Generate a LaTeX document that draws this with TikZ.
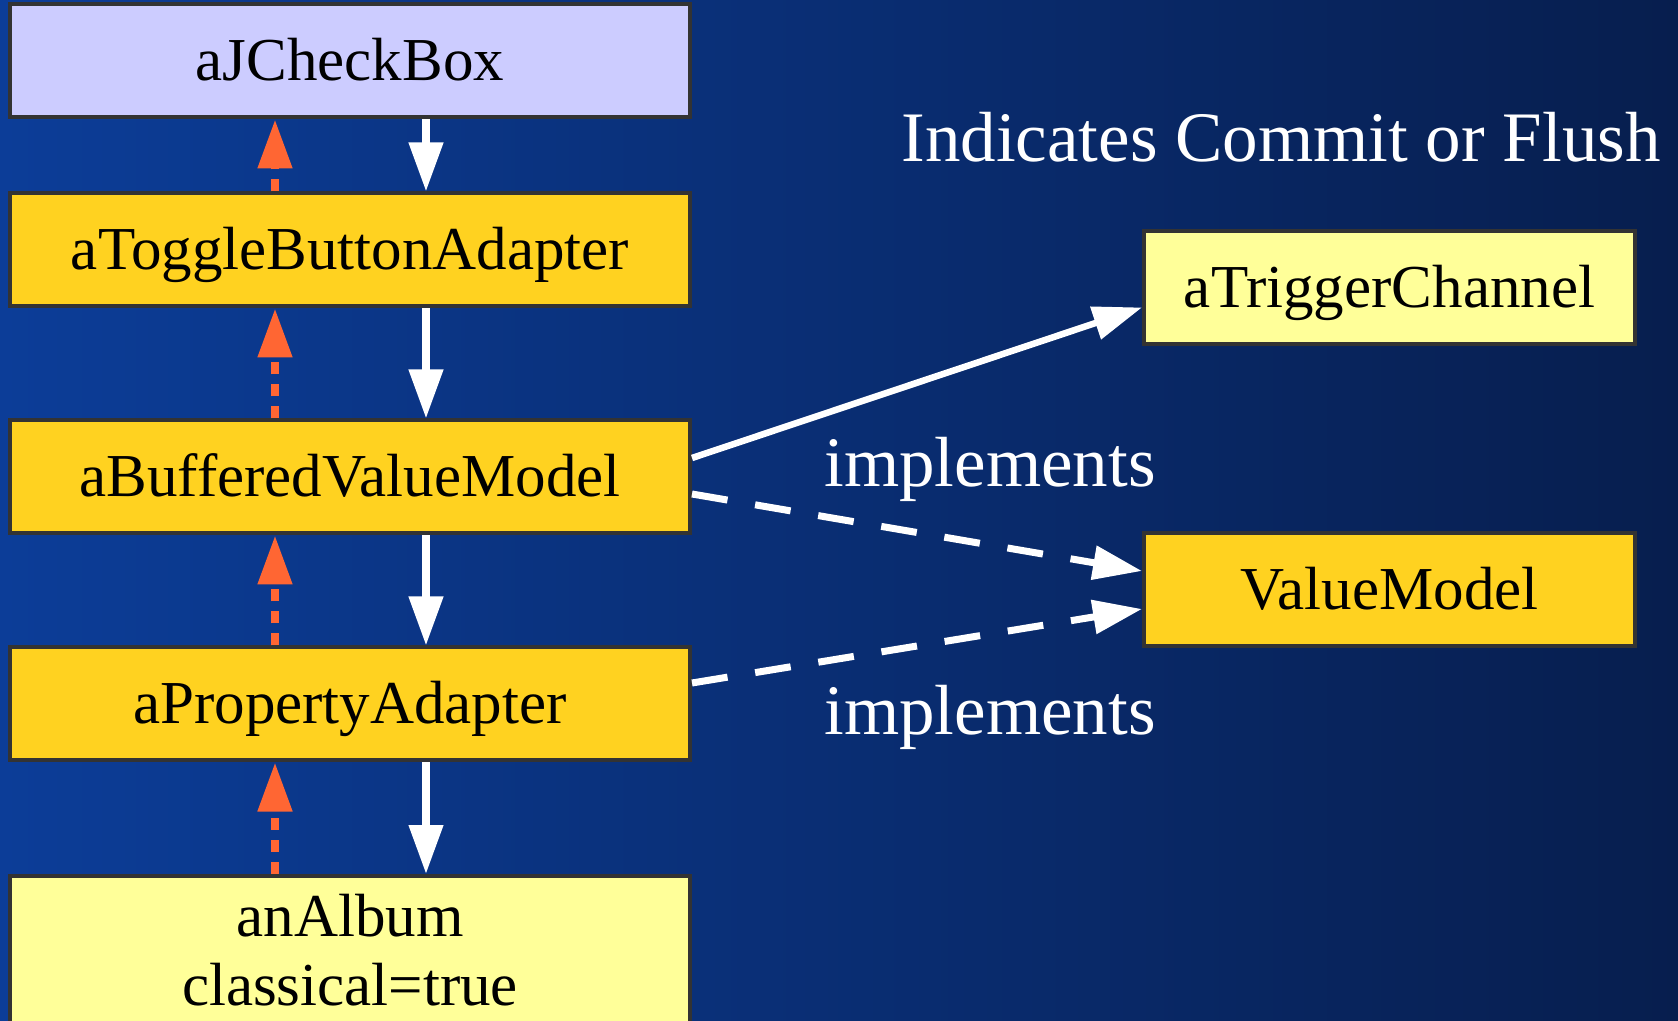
\documentclass[tikz,border=0pt]{standalone}
\usepackage{fontspec}
\setmainfont{Liberation Serif}
\usetikzlibrary{arrows.meta,calc}

\definecolor{bgleft}{RGB}{12,61,152}
\definecolor{bgmid}{RGB}{10,46,118}
\definecolor{bgright}{RGB}{7,30,78}
\definecolor{lavender}{RGB}{204,204,255}
\definecolor{gold}{RGB}{255,210,32}
\definecolor{paleyellow}{RGB}{255,255,153}
\definecolor{edgegray}{RGB}{51,51,51}
\definecolor{flushorange}{RGB}{255,102,51}

\tikzset{
  objshape/.style={draw=edgegray, line width=2pt, minimum width=340pt,
    minimum height=56.5pt, inner sep=0pt,
    font=\fontsize{30.5pt}{34.5pt}\selectfont},
  objbox/.style={objshape, text height=27pt, text depth=7pt},
  lbl/.style={text=white, inner sep=0pt, font=\fontsize{35.5pt}{40pt}\selectfont},
  headtip/.tip={Triangle[length=24.5pt,width=16.5pt]},
  feedarrow/.style={draw=white, line width=3.75pt, -headtip},
  flusharrow/.style={draw=flushorange, line width=4pt, dash pattern=on 6pt off 5pt, -headtip},
  linkarrow/.style={draw=white, line width=3.25pt, -headtip},
  implarrow/.style={draw=white, line width=3.5pt, dash pattern=on 18pt off 14pt, -headtip},
}

\begin{document}
\begin{tikzpicture}[x=0.5pt,y=-0.5pt]
  % backdrop
  \useasboundingbox (0,0) rectangle (1678,1021);
  \shade[left color=bgleft, middle color=bgmid, right color=bgright]
    (0,0) rectangle (1678,1021);
  \clip (0,0) rectangle (1678,1021);

  % adapter chain
  \node[objbox, fill=lavender] (jcb)  at (350,61)  {aJCheckBox};
  \node[objbox, fill=gold]     (tog)  at (350,250) {aToggleButtonAdapter};
  \node[objbox, fill=gold]     (buf)  at (350,477) {aBufferedValueModel};
  \node[objbox, fill=gold]     (prop) at (350,704) {aPropertyAdapter};
  \node[objshape, fill=paleyellow, align=center, anchor=north, inner ysep=9pt,
        text depth=45pt] (album) at (350,874) {anAlbum\\classical=true};

  % right-hand column
  \node[objbox, fill=paleyellow, minimum width=245.5pt] (trig) at (1389.5,287.5) {aTriggerChannel};
  \node[objbox, fill=gold, minimum width=245.5pt]       (vm)   at (1389.5,590)   {ValueModel};

  % labels
  \node[lbl, anchor=base] (title) at (1281,162) {Indicates Commit or Flush};
  \node[lbl, anchor=base] (impl1) at (990,487) {implements};
  \node[lbl, anchor=base] (impl2) at (990,734) {implements};

  % value flow downwards
  \draw[feedarrow] ($(jcb.south)+(76,0)$)  -- ($(tog.north)+(76,0)$);
  \draw[feedarrow] ($(tog.south)+(76,0)$)  -- ($(buf.north)+(76,0)$);
  \draw[feedarrow] ($(buf.south)+(76,0)$)  -- ($(prop.north)+(76,0)$);
  \draw[feedarrow] ($(prop.south)+(76,0)$) -- ($(album.north)+(76,0)$);

  % commit / flush upwards
  \draw[flusharrow] ($(tog.north)+(-75,0)$)   -- ($(jcb.south)+(-75,0)$);
  \draw[flusharrow] ($(buf.north)+(-75,0)$)   -- ($(tog.south)+(-75,0)$);
  \draw[flusharrow] ($(prop.north)+(-75,0)$)  -- ($(buf.south)+(-75,0)$);
  \draw[flusharrow] ($(album.north)+(-75,0)$) -- ($(prop.south)+(-75,0)$);

  % trigger and interface links
  \draw[linkarrow] ($(buf.east)+(0,-19)$)  -- ($(trig.west)+(0,20)$);
  \draw[implarrow] ($(buf.east)+(0,17)$)   -- ($(vm.west)+(0,-19)$);
  \draw[implarrow] ($(prop.east)+(0,-21)$) -- ($(vm.west)+(0,19)$);
\end{tikzpicture}
\end{document}
